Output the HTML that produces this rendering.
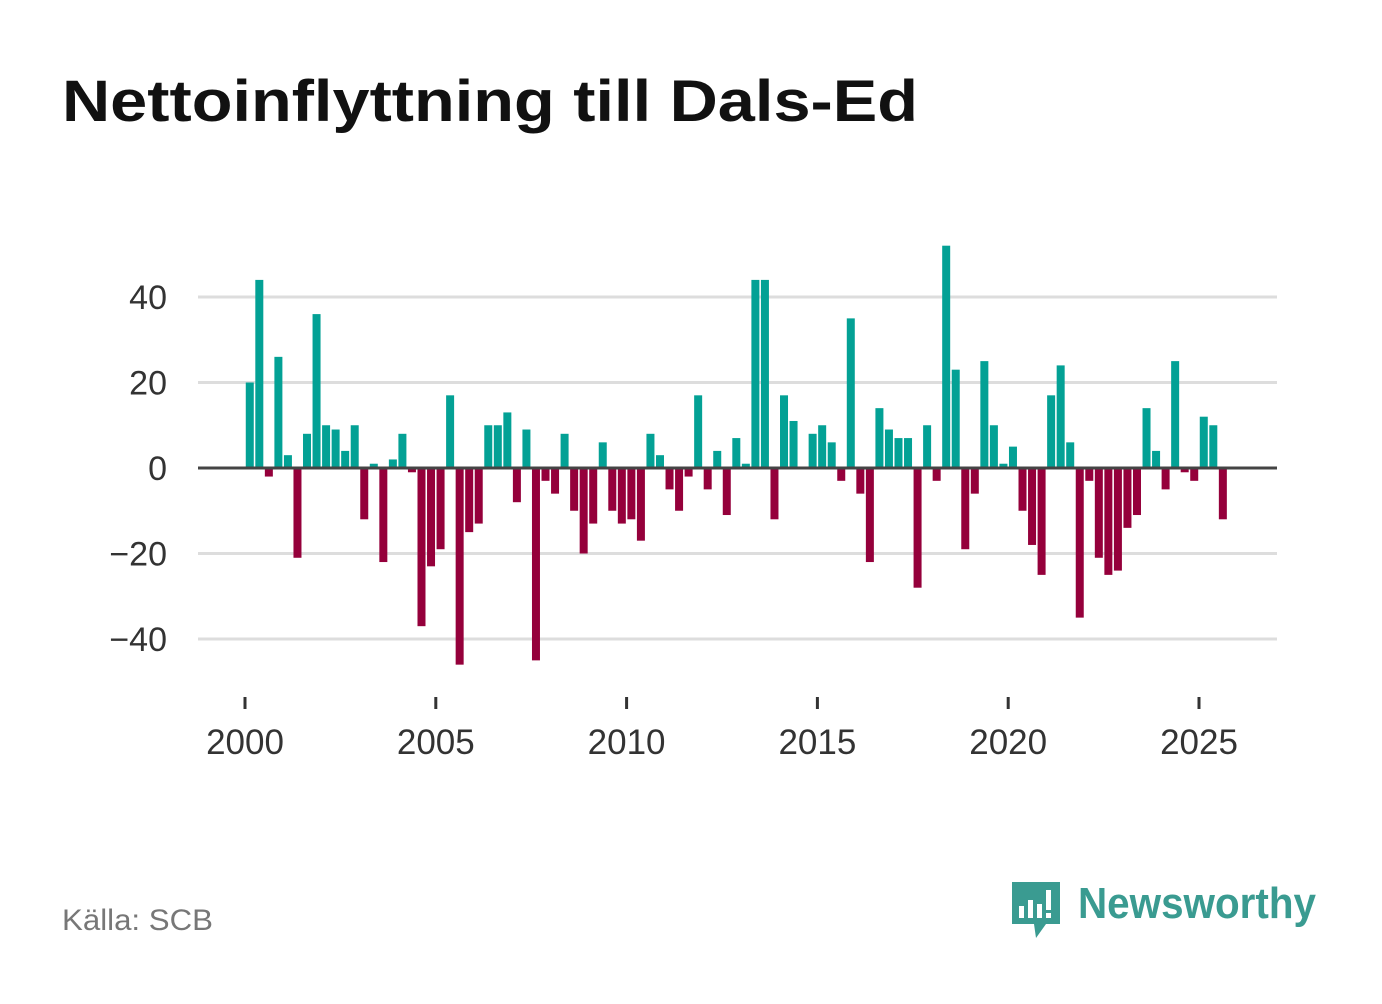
<!DOCTYPE html>
<html><head><meta charset="utf-8"><style>
body{margin:0;background:#fff;width:1382px;height:999px;overflow:hidden;font-family:"Liberation Sans",sans-serif}
</style></head><body>
<svg width="1382" height="999">
<text x="62" y="121" font-size="58" font-weight="bold" fill="#111" textLength="856" lengthAdjust="spacingAndGlyphs">Nettoinflyttning till Dals-Ed</text>
<g id="grid"></g><g id="bars"></g><g id="axis"></g>
<text x="62" y="930" font-size="30" fill="#777" textLength="151" lengthAdjust="spacingAndGlyphs">Källa: SCB</text>
<g>
<path d="M1012 882h48v42h-14l-10 14l-2-14h-22z" fill="#3a9b91"/>
<rect x="1019" y="906" width="5" height="12" fill="#fff"/><rect x="1028" y="900" width="5" height="18" fill="#fff"/><rect x="1037" y="904" width="5" height="14" fill="#fff"/><rect x="1046" y="890" width="5" height="20" fill="#fff"/><rect x="1046" y="913" width="5" height="5" fill="#fff"/>
<text x="1078" y="918" font-size="44" font-weight="bold" fill="#3a9b91" textLength="238" lengthAdjust="spacingAndGlyphs">Newsworthy</text>
</g>
</svg>
<script>
const startYear = 2000;
const values = [20,44,-2,26,3,-21,8,36,10,9,4,10,-12,1,-22,2,8,-1,-37,-23,-19,17,-46,-15,-13,10,10,13,-8,9,-45,-3,-6,8,-10,-20,-13,6,-10,-13,-12,-17,8,3,-5,-10,-2,17,-5,4,-11,7,1,44,44,-12,17,11,0,8,10,6,-3,35,-6,-22,14,9,7,7,-28,10,-3,52,23,-19,-6,25,10,1,5,-10,-18,-25,17,24,6,-35,-3,-21,-25,-24,-14,-11,14,4,-5,25,-1,-3,12,10,-12];
const yTicks = [40,20,0,-20,-40];
const yTickLabels = ["40","20","0","\u221220","\u221240"];
const xTicks = [2000,2005,2010,2015,2020,2025];
const NS="http://www.w3.org/2000/svg";
const X = yr => 245 + (yr - startYear) * 38.16;
const Y = v => 468 - v * 4.275;
function mk(tag, attrs, parent){const e=document.createElementNS(NS,tag);for(const k in attrs)e.setAttribute(k,attrs[k]);parent.appendChild(e);return e;}
const grid=document.getElementById('grid'),bars=document.getElementById('bars'),axis=document.getElementById('axis');
yTicks.forEach((t,i)=>{
  if(t!==0){const l=mk('line',{x1:198,x2:1277,y1:Y(t),y2:Y(t),stroke:'#ddd','stroke-width':3},grid);
  
  }
  const tx=mk('text',{x:167,y:Y(t)+12,'text-anchor':'end','font-size':34,fill:'#333'},axis);
  tx.textContent=yTickLabels[i];
  
  
});
values.forEach((v,i)=>{
  const cx=X(startYear+(i+0.5)/4);
  const r=mk('rect',{x:cx-4,y:Math.min(Y(v),Y(0)),width:8,height:Math.abs(Y(v)-Y(0)),fill:v>=0?'#03a195':'#95003b'},bars);
  
  
});
const z=mk('line',{x1:198,x2:1277,y1:Y(0),y2:Y(0),stroke:'#444','stroke-width':3},axis);


xTicks.forEach(t=>{
  const l=mk('line',{x1:X(t),x2:X(t),y1:697,y2:709,stroke:'#333','stroke-width':3},axis);
  
  
  const tx=mk('text',{x:X(t),y:754,'text-anchor':'middle','font-size':35,fill:'#333'},axis);
  tx.textContent=t;
  
  
});
</script>
</body></html>
